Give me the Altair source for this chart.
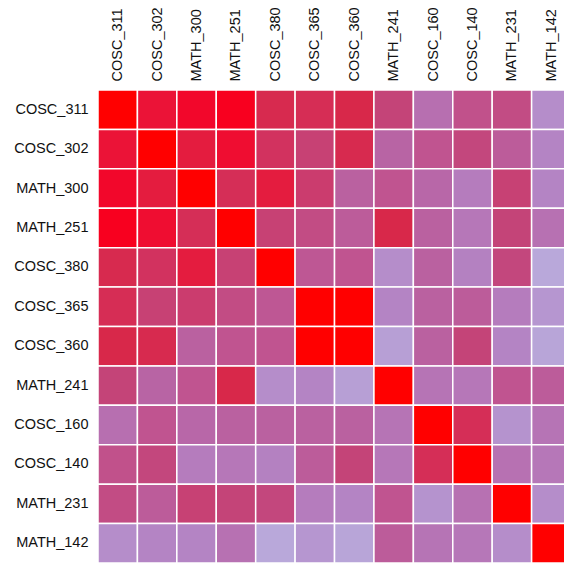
import json
import altair as alt
import pandas as pd

courses = ["COSC_311", "COSC_302", "MATH_300", "MATH_251", "COSC_380", "COSC_365",
           "COSC_360", "MATH_241", "COSC_160", "COSC_140", "MATH_231", "MATH_142"]

row_cosc_311 = [1.00, 0.88, 0.92, 0.95, 0.78, 0.76, 0.80, 0.60, 0.33, 0.52, 0.55, 0.15]
row_cosc_302 = [0.88, 1.00, 0.85, 0.90, 0.72, 0.62, 0.78, 0.40, 0.50, 0.58, 0.45, 0.20]
row_math_300 = [0.92, 0.85, 1.00, 0.75, 0.85, 0.65, 0.42, 0.50, 0.38, 0.25, 0.62, 0.20]
row_math_251 = [0.95, 0.90, 0.75, 1.00, 0.62, 0.55, 0.45, 0.80, 0.42, 0.28, 0.60, 0.32]
row_cosc_380 = [0.78, 0.72, 0.85, 0.62, 1.00, 0.48, 0.50, 0.15, 0.42, 0.22, 0.58, 0.00]
row_cosc_365 = [0.76, 0.62, 0.65, 0.55, 0.48, 1.00, 1.00, 0.20, 0.42, 0.45, 0.25, 0.10]
row_cosc_360 = [0.80, 0.78, 0.42, 0.50, 0.50, 1.00, 1.00, 0.05, 0.42, 0.60, 0.20, 0.02]
row_math_241 = [0.60, 0.40, 0.50, 0.80, 0.15, 0.20, 0.05, 1.00, 0.30, 0.28, 0.50, 0.45]
row_cosc_160 = [0.33, 0.50, 0.38, 0.42, 0.42, 0.42, 0.42, 0.30, 1.00, 0.75, 0.12, 0.30]
row_cosc_140 = [0.52, 0.58, 0.25, 0.28, 0.22, 0.45, 0.60, 0.28, 0.75, 1.00, 0.32, 0.28]
row_math_231 = [0.55, 0.45, 0.62, 0.60, 0.58, 0.25, 0.20, 0.50, 0.12, 0.32, 1.00, 0.15]
row_math_142 = [0.15, 0.20, 0.20, 0.32, 0.00, 0.10, 0.02, 0.45, 0.30, 0.28, 0.15, 1.00]

rows = [row_cosc_311, row_cosc_302, row_math_300, row_math_251, row_cosc_380, row_cosc_365,
        row_cosc_360, row_math_241, row_cosc_160, row_cosc_140, row_math_231, row_math_142]

color_stops = [0.0, 0.2, 0.4, 0.6, 0.8, 1.0]
color_range = ["#b9a8da", "#b484c4", "#b864a4", "#c44478", "#d8284a", "#ff0000"]

records = []
for i, r in enumerate(rows):
    for j, v in enumerate(r):
        records.append({"row": courses[i], "xi": j, "xi2": j + 1, "value": v})
df = pd.DataFrame(records)

label_expr = json.dumps(courses) + "[floor(datum.value)]"

chart = alt.Chart(df).mark_rect(stroke="white", strokeWidth=1.5, clip=True).encode(
    x=alt.X("xi:Q",
            scale=alt.Scale(domain=[0, 466 / 39.42], nice=False, zero=False),
            axis=alt.Axis(orient="top", values=[k + 0.5 for k in range(12)],
                          labelExpr=label_expr, labelAngle=270, title=None,
                          ticks=False, domain=False, grid=False,
                          labelFont="Liberation Sans", labelFontSize=14.5,
                          labelColor="#111111", labelPadding=9,
                          minExtent=86, maxExtent=86)),
    x2="xi2:Q",
    y=alt.Y("row:N", sort=courses,
            scale=alt.Scale(paddingInner=0, paddingOuter=0),
            axis=alt.Axis(title=None, ticks=False, domain=False,
                          labelFont="Liberation Sans", labelFontSize=14.5,
                          labelColor="#111111", labelPadding=10,
                          minExtent=90, maxExtent=90)),
    color=alt.Color("value:Q",
                    scale=alt.Scale(domain=color_stops, range=color_range),
                    legend=None),
).properties(
    width=466, height=473,
    padding={"left": 8, "top": 4, "right": 0, "bottom": 2},
).configure_view(strokeWidth=0)

chart.save("out.html", embed_options={"renderer": "svg", "actions": False})
